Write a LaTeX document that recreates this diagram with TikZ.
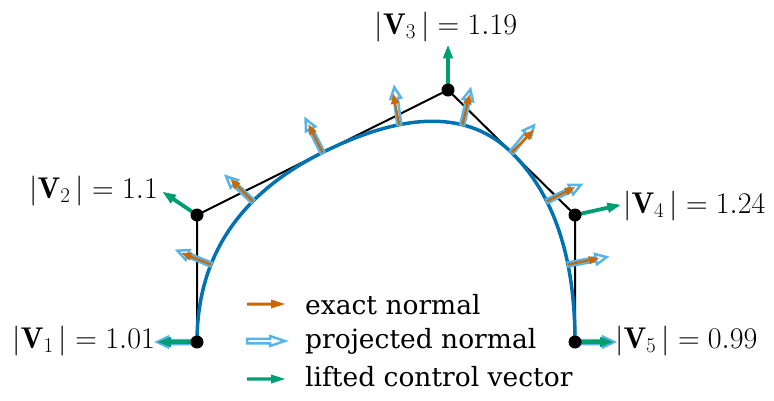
\RequirePackage{fix-cm}
\documentclass[tikz,border=0pt]{standalone}
\usepackage{fontspec}
\newfontfamily\legfont{DejaVu Serif}
\usetikzlibrary{arrows.meta,calc}
\definecolor{cblue}{HTML}{0072B2}
\definecolor{csky}{HTML}{56B4E9}
\definecolor{corange}{HTML}{CC6600}
\definecolor{cgreen}{HTML}{009E73}
% #1 style, #2 base coordinate, #3 angle, #4 length, #5 shaft width, #6 head width, #7 head length
\newcommand{\fatarrow}[7]{%
  \path[#1, shift={(#2)}, rotate=#3]
    (0,-#5/2) -- (#4-#7,-#5/2) -- (#4-#7,-#6/2) -- (#4,0) --
    (#4-#7,#6/2) -- (#4-#7,#5/2) -- (0,#5/2) -- cycle;}
\newcommand{\projarr}[3]{\fatarrow{projarrow}{#1}{#2}{#3}{4}{10.5}{11}}
\newcommand{\exactarr}[3]{\fatarrow{exactarrow}{#1}{#2}{#3}{2.2}{8.5}{10}}
\newcommand{\liftarr}[3]{\fatarrow{liftarrow}{#1}{#2}{#3}{3.8}{10.5}{13}}
\begin{document}
\begin{tikzpicture}[x=1pt,y=-1pt,
  ctrl/.style={line width=2pt, black},
  curvestyle/.style={line width=3.5pt, cblue},
  projarrow/.style={draw=csky, fill=white, line width=2.5pt, line join=miter},
  exactarrow/.style={fill=corange},
  liftarrow/.style={fill=cgreen},
  dot/.style={circle, fill=black, inner sep=0pt, minimum size=13pt},
  lab/.style={inner sep=0pt, font=\fontsize{30}{34}\selectfont},
  leg/.style={inner sep=0pt, anchor=base west, font=\legfont\fontsize{26.5}{30}\selectfont}]
\useasboundingbox (0,0) rectangle (774,400);

% control points
\coordinate (p1) at (197,342);
\coordinate (p2) at (197,215);
\coordinate (p3) at (448,90);
\coordinate (p4) at (575,215);
\coordinate (p5) at (575,342);
% knot points of the quadratic B-spline
\coordinate (m1) at ($(p2)!0.5!(p3)$);
\coordinate (m2) at ($(p3)!0.5!(p4)$);

% control polygon
\draw[ctrl] (p1) -- (p2) -- (p3) -- (p4) -- (p5);

% curve (clamped quadratic B-spline, written as cubic pieces)
\draw[curvestyle]
  (p1) .. controls ($(p1)!2/3!(p2)$) and ($(m1)!2/3!(p2)$) .. (m1)
       .. controls ($(m1)!2/3!(p3)$) and ($(m2)!2/3!(p3)$) .. (m2)
       .. controls ($(m2)!2/3!(p4)$) and ($(p5)!2/3!(p4)$) .. (p5);

% normal sample points on the curve
\coordinate (n2) at (210.9,264.5);
\coordinate (n3) at (252.8,201.3);
\coordinate (n5) at (399.3,124.7);
\coordinate (n6) at (462.3,124.7);
\coordinate (n8) at (546.8,201.3);
\coordinate (n9) at (568.0,264.5);

% projected normals
\projarr{p1}{180}{39.9}
\projarr{n2}{157.6}{36.2}
\projarr{n3}{136.9}{36.5}
\projarr{m1}{116.8}{37.4}
\projarr{n5}{97.6}{37.7}
\projarr{n6}{77.1}{36.2}
\projarr{m2}{50.3}{35.1}
\projarr{n8}{25.8}{37.7}
\projarr{n9}{10.8}{39.4}
\projarr{p5}{0}{39.1}

% exact normals
\exactarr{n2}{158.4}{31.5}
\exactarr{n3}{135.1}{31.5}
\exactarr{m1}{116.5}{31.5}
\exactarr{n5}{101.2}{31.5}
\exactarr{n6}{76.1}{31.5}
\exactarr{m2}{45.5}{31.5}
\exactarr{n8}{26.7}{31.5}
\exactarr{n9}{11.3}{31.5}

% lifted control vectors
\liftarr{p1}{180}{39}
\liftarr{p2}{146}{41.2}
\liftarr{p3}{90}{44.6}
\liftarr{p4}{12.5}{46.5}
\liftarr{p5}{0}{38}

% control point dots
\foreach \i in {1,...,5} \node[dot] (P\i) at (p\i) {};

% labels
\node[lab, anchor=base east] (l1) at (155,348) {$|\mathbf{V}_{1}\,|=1.01$};
\node[lab, anchor=base east] (l2) at (158,198) {$|\mathbf{V}_{2}\,|=1.1$};
\node[lab, anchor=base] (l3) at (446,34) {$|\mathbf{V}_{3}\,|=1.19$};
\node[lab, anchor=base west] (l4) at (623,213) {$|\mathbf{V}_{4}\,|=1.24$};
\node[lab, anchor=base west] (l5) at (615,348) {$|\mathbf{V}_{5}\,|=0.99$};

% legend
\coordinate (g1) at (247,304);
\coordinate (g2) at (247,341);
\coordinate (g3) at (247,379);
\fatarrow{exactarrow}{g1}{0}{38}{3}{9}{14}
\fatarrow{projarrow}{g2}{0}{38}{4.5}{10}{15}
\fatarrow{liftarrow}{g3}{0}{38}{3.3}{9}{14}
\node[leg] (t1) at (305,314) {exact normal};
\node[leg] (t2) at (305,348.5) {projected normal};
\node[leg] (t3) at (305,386.5) {lifted control vector};
\end{tikzpicture}
\end{document}
